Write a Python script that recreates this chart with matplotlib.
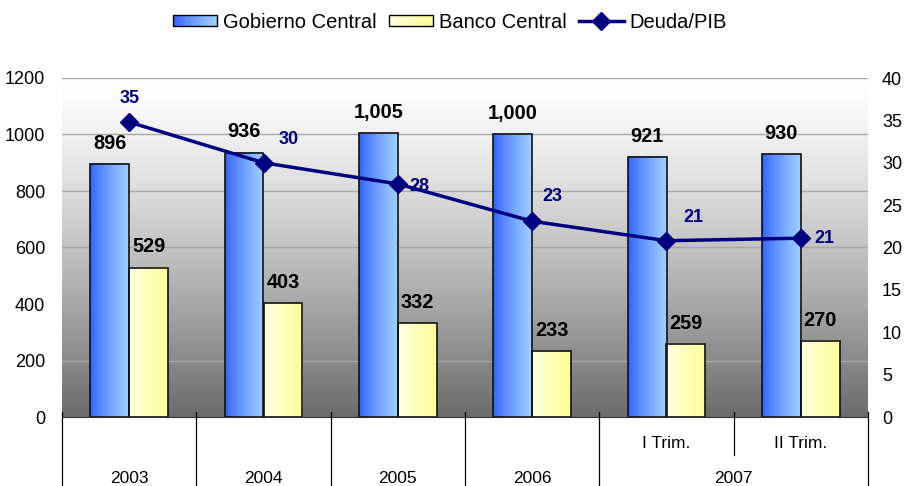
import numpy as np
import matplotlib
matplotlib.use("Agg")
import matplotlib.pyplot as plt
from matplotlib.patches import Rectangle, Patch
from matplotlib.lines import Line2D
from matplotlib.legend_handler import HandlerBase
from matplotlib.colors import to_rgb

plt.rcParams['font.family'] = ['Liberation Sans', 'DejaVu Sans']

# ---------------------------------------------------------------------------
# data
# ---------------------------------------------------------------------------
periods = ["2003", "2004", "2005", "2006", "I Trim.", "II Trim."]
years = ["2003", "2004", "2005", "2006", "2007"]
year_span = [(0, 0), (1, 1), (2, 2), (3, 3), (4, 5)]   # first/last period index
gobierno = [896, 936, 1005, 1000, 921, 930]
banco = [529, 403, 332, 233, 259, 270]
deuda_pib = [34.8, 30.0, 27.5, 23.1, 20.8, 21.1]

# manual label offsets for the line labels (pixels), like the original
deuda_offsets = [(0, 24), (25, 23), (22, -3), (20, 25), (27, 23), (24, 0)]

BLUE_L, BLUE_R = "#3160FF", "#A0D0FF"
YEL_L, YEL_R = "#FFFFE8", "#FFFF99"
NAVY = "#000080"


def hgrad(c_left, c_right, n=64, power=0.8):
    t = np.linspace(0, 1, n) ** power
    a, b = np.array(to_rgb(c_left)), np.array(to_rgb(c_right))
    return (a[None, :] * (1 - t[:, None]) + b[None, :] * t[:, None])[None, :, :]


class GradHandler(HandlerBase):
    def __init__(self, c_left, c_right):
        super().__init__()
        self.cl, self.cr = c_left, c_right

    def create_artists(self, legend, orig_handle, xdescent, ydescent,
                       width, height, fontsize, trans):
        n = 20
        cols = hgrad(self.cl, self.cr, n)[0]
        arts = []
        for i in range(n):
            arts.append(Rectangle((-xdescent + i * width / n, -ydescent), width / n + 0.3, height,
                                  facecolor=cols[i], edgecolor='none', transform=trans))
        arts.append(Rectangle((-xdescent, -ydescent), width, height, facecolor='none',
                              edgecolor='black', lw=1.0, transform=trans))
        return arts


fig = plt.figure(figsize=(9.06, 4.86), dpi=100)
ax = fig.add_axes([62 / 906, 69 / 486, 806 / 906, 339 / 486])

x = np.arange(len(periods))
w = 0.29

# background gradient (white -> dark gray)
t = np.linspace(0, 1, 256)
g = 1 - 0.58 * t ** 1.3
bg = np.stack([g, g, g], axis=-1)[:, None, :]
ax.imshow(bg, extent=[0, 1, 0, 1], transform=ax.transAxes, aspect='auto', zorder=0)

for v in range(200, 1201, 200):
    ax.axhline(v, color='#A8A8A8', lw=1.0, zorder=1)

bars_g = ax.bar(x - w / 2, gobierno, w, facecolor='none', edgecolor='#111111', lw=1.2, zorder=3)
bars_b = ax.bar(x + w / 2, banco, w, facecolor='none', edgecolor='#111111', lw=1.2, zorder=3)
for bars, cl, cr in [(bars_g, BLUE_L, BLUE_R), (bars_b, YEL_L, YEL_R)]:
    for b in bars:
        x0, y0 = b.get_x(), b.get_y()
        ax.imshow(hgrad(cl, cr), extent=[x0, x0 + b.get_width(), y0, y0 + b.get_height()],
                  aspect='auto', zorder=2, interpolation='bilinear')

for bars, vals in [(bars_g, gobierno), (bars_b, banco)]:
    for b, v in zip(bars, vals):
        ax.annotate(f"{v:,}", (b.get_x() + b.get_width() / 2, v), xytext=(0, 8),
                    textcoords='offset points', ha='center', va='bottom',
                    fontsize=14.3, fontweight='bold')

ax.set_xlim(-0.5, len(periods) - 0.5)
ax.set_ylim(0, 1200)
ax.set_yticks(range(0, 1201, 200))
ax.tick_params(axis='y', length=0, labelsize=13, pad=12)
ax.set_xticks([])
for s in ['top', 'left', 'right']:
    ax.spines[s].set_visible(False)
ax.spines['bottom'].set_color('#333333')
ax.spines['bottom'].set_zorder(4)

# category axis below the plot
tr = ax.get_xaxis_transform()
bounds = [year_span[0][0] - 0.5] + [s[1] + 0.5 for s in year_span]
for b in bounds:
    ax.plot([b, b], [0.015, -0.21], color='black', lw=0.9, transform=tr, clip_on=False, zorder=5)
for s in year_span:
    if s[1] > s[0]:
        for k in range(s[0], s[1]):
            ax.plot([k + 0.5, k + 0.5], [0.015, -0.112], color='black', lw=0.9,
                    transform=tr, clip_on=False, zorder=5)
        for k in range(s[0], s[1] + 1):
            ax.text(k, -0.077, periods[k], transform=tr, ha='center', va='center', fontsize=12.5)
for yr, s in zip(years, year_span):
    ax.text((s[0] + s[1]) / 2, -0.18, yr, transform=tr, ha='center', va='center', fontsize=12.5)

# debt / GDP line on right axis
ax2 = ax.twinx()
ax2.plot(x, deuda_pib, color=NAVY, lw=2.5, marker='D', markersize=9, zorder=5)
for xi, v, (dx, dy) in zip(x, deuda_pib, deuda_offsets):
    ax2.annotate(f"{v:.0f}", (xi, v), xytext=(dx * 0.72, dy * 0.72), textcoords='offset points',
                 ha='center', va='center', fontsize=13, fontweight='bold', color=NAVY)
ax2.set_ylim(0, 40)
ax2.set_yticks(range(0, 41, 5))
ax2.tick_params(axis='y', length=0, labelsize=13, pad=10)
for s in ax2.spines.values():
    s.set_visible(False)

handles = [Patch(), Patch(), Line2D([], [], color=NAVY, lw=2.5, marker='D', markersize=9)]
labels = ["Gobierno Central", "Banco Central", "Deuda/PIB"]
fig.legend(handles, labels, loc='center', bbox_to_anchor=(450 / 906, 1 - 22 / 486),
           ncol=3, frameon=False, fontsize=14.5, handlelength=2.2, handleheight=0.5,
           handletextpad=0.3, columnspacing=0.6,
           handler_map={handles[0]: GradHandler(BLUE_L, BLUE_R),
                        handles[1]: GradHandler(YEL_L, YEL_R)})

fig.savefig("out.png", dpi=100)
